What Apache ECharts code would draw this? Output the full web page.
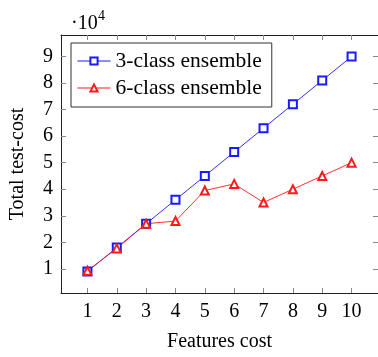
<!DOCTYPE html>
<html>
<head>
<meta charset="utf-8">
<script src="https://cdn.jsdelivr.net/npm/echarts@6/dist/echarts.min.js"></script>
<style>
  html, body { margin: 0; padding: 0; background: #fff; }
  #main { width: 378px; height: 357px; }
</style>
</head>
<body>
<div id="main"></div>
<script>
// data
const featuresCost = [1, 2, 3, 4, 5, 6, 7, 8, 9, 10];
const threeClass = [9000, 18000, 27000, 36000, 45000, 54000, 63000, 72000, 81000, 90000];
const sixClass = [9300, 17700, 27000, 28000, 39500, 42000, 35000, 40000, 45000, 50000];
const yTicks = [10000, 20000, 30000, 40000, 50000, 60000, 70000, 80000, 90000];

const font = 'Liberation Serif';
const fs = 20;

let chart = echarts.init(document.getElementById('main'));

const tick = { show: true, inside: true, length: 5, lineStyle: { color: '#888', width: 1 } };
const line = { show: true, lineStyle: { color: '#222', width: 1 } };

const option = {
  animation: false,
  grid: { left: 60, top: 35, width: 319, height: 263 },
  textStyle: { fontFamily: font },
  legend: {
    orient: 'vertical',
    left: 71,
    top: 43,
    padding: [7, 10, 8, 6],
    itemWidth: 33,
    itemHeight: 9,
    itemGap: 5,
    borderColor: '#333',
    borderWidth: 1,
    itemStyle: { borderWidth: 1 },
    lineStyle: { width: 1 },
    textStyle: { fontFamily: font, fontSize: 21.5, color: '#000' },
    data: ['3-class ensemble', '6-class ensemble']
  },
  xAxis: [
    {
      type: 'value', min: 0.1, max: 10.9, position: 'bottom',
      name: 'Features cost', nameLocation: 'middle', nameGap: 39,
      nameTextStyle: { fontFamily: font, fontSize: fs, color: '#000' },
      axisLine: line, axisTick: Object.assign({ customValues: featuresCost }, tick),
      axisLabel: { customValues: featuresCost, margin: 9, fontFamily: font, fontSize: fs, color: '#000' },
      splitLine: { show: false }
    },
    {
      type: 'value', min: 0.1, max: 10.9, position: 'top',
      axisLine: line, axisTick: Object.assign({ customValues: featuresCost }, tick),
      axisLabel: { show: false }, splitLine: { show: false }
    }
  ],
  yAxis: [
    {
      type: 'value', min: 900, max: 98100, position: 'left',
      name: 'Total test-cost', nameLocation: 'middle', nameGap: 33,
      nameTextStyle: { fontFamily: font, fontSize: fs, color: '#000' },
      axisLine: line, axisTick: Object.assign({ customValues: yTicks }, tick),
      axisLabel: {
        customValues: yTicks, margin: 8, fontFamily: font, fontSize: fs, color: '#000',
        formatter: v => String(Math.round(v / 10000))
      },
      splitLine: { show: false }
    },
    {
      type: 'value', min: 900, max: 98100, position: 'right',
      axisLine: line, axisTick: Object.assign({ customValues: yTicks }, tick),
      axisLabel: { show: false }, splitLine: { show: false }
    }
  ],
  graphic: [
    { type: 'text', left: 71, top: 14, style: { text: '·10', fontFamily: font, fontSize: fs, fill: '#000' } },
    { type: 'text', left: 98, top: 9, style: { text: '4', fontFamily: font, fontSize: 14, fill: '#000' } }
  ],
  series: [
    {
      name: '3-class ensemble', type: 'line',
      data: featuresCost.map((x, i) => [x, threeClass[i]]),
      symbol: 'emptyRect', symbolSize: 8,
      itemStyle: { color: '#1a1aff', borderWidth: 0.9 },
      lineStyle: { color: '#1a1aff', width: 0.9 }
    },
    {
      name: '6-class ensemble', type: 'line',
      data: featuresCost.map((x, i) => [x, sixClass[i]]),
      symbol: 'emptyTriangle', symbolSize: 8,
      itemStyle: { color: '#ff1a1a', borderWidth: 0.9 },
      lineStyle: { color: '#ff1a1a', width: 0.9 }
    }
  ]
};

chart.setOption(option);
</script>
</body>
</html>
